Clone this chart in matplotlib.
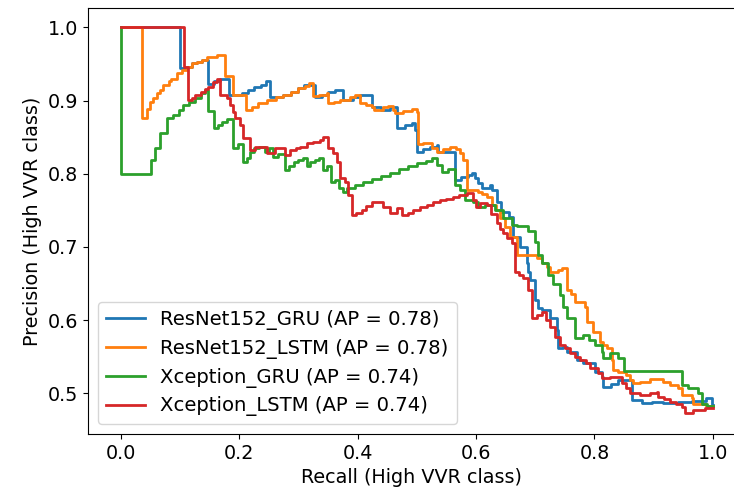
import matplotlib
matplotlib.use("Agg")
import matplotlib.pyplot as plt

# precision-recall curves, recall increasing
# each (r, p) pair: precision becomes p at recall r (steps-post)
resnet_gru_r = [0.000, 0.100, 0.112, 0.120, 0.129, 0.137, 0.148, 0.158, 0.168, 0.183,
                0.205, 0.215, 0.225, 0.237, 0.245, 0.252, 0.275, 0.288, 0.300, 0.310,
                0.328, 0.340, 0.350, 0.362, 0.376, 0.392, 0.405, 0.424, 0.440, 0.455,
                0.466, 0.480, 0.4915, 0.497, 0.500, 0.510, 0.522, 0.534, 0.536, 0.5646,
                0.575, 0.587, 0.593, 0.598, 0.604, 0.610, 0.624, 0.6265, 0.635, 0.643,
                0.655, 0.663, 0.674, 0.686, 0.688, 0.691, 0.700, 0.705, 0.711, 0.725,
                0.736, 0.739, 0.747, 0.753, 0.770, 0.781, 0.801, 0.812, 0.815, 0.828,
                0.840, 0.863, 0.880, 0.8965, 0.916, 0.9415, 0.965, 0.989, 0.998, 1.000]
resnet_gru_p = [1.000, 0.944, 0.946, 0.951, 0.953, 0.956, 0.923, 0.926, 0.929, 0.9075,
                0.910, 0.914, 0.918, 0.921, 0.926, 0.905, 0.9075, 0.912, 0.917, 0.921,
                0.905, 0.908, 0.912, 0.914, 0.901, 0.905, 0.9075, 0.8915, 0.887, 0.8915,
                0.862, 0.866, 0.869, 0.860, 0.830, 0.834, 0.837, 0.839, 0.830, 0.791,
                0.795, 0.798, 0.8005, 0.794, 0.787, 0.780, 0.785, 0.778, 0.762, 0.748,
                0.741, 0.714, 0.700, 0.678, 0.666, 0.655, 0.6275, 0.616, 0.614, 0.6025,
                0.5865, 0.5615, 0.5637, 0.557, 0.5455, 0.541, 0.5295, 0.5227, 0.509, 0.513,
                0.518, 0.491, 0.4863, 0.4885, 0.4863, 0.4885, 0.490, 0.493, 0.484, 0.484]

resnet_lstm_r = [0.000, 0.037, 0.044, 0.049, 0.055, 0.061, 0.067, 0.072, 0.081, 0.086,
                 0.095, 0.103, 0.112, 0.120, 0.129, 0.137, 0.146, 0.162, 0.176, 0.189,
                 0.212, 0.222, 0.232, 0.247, 0.262, 0.275, 0.288, 0.300, 0.312, 0.318,
                 0.325, 0.335, 0.348, 0.351, 0.360, 0.370, 0.387, 0.396, 0.404, 0.415,
                 0.424, 0.427, 0.4435, 0.452, 0.460, 0.463, 0.476, 0.4915, 0.500, 0.5026,
                 0.511, 0.525, 0.534, 0.545, 0.556, 0.566, 0.573, 0.5786, 0.5843, 0.604,
                 0.610, 0.618, 0.6265, 0.633, 0.6405, 0.649, 0.6574, 0.6687, 0.6856, 0.7024,
                 0.712, 0.719, 0.725, 0.739, 0.745, 0.753, 0.760, 0.767, 0.784, 0.787,
                 0.798, 0.809, 0.815, 0.821, 0.829, 0.832, 0.840, 0.854, 0.860, 0.8655,
                 0.877, 0.894, 0.916, 0.927, 0.941, 0.947, 0.964, 0.967, 0.989, 1.000]
resnet_lstm_p = [1.000, 0.876, 0.889, 0.898, 0.903, 0.910, 0.914, 0.921, 0.926, 0.930,
                 0.937, 0.942, 0.946, 0.951, 0.953, 0.956, 0.959, 0.962, 0.933, 0.9075,
                 0.887, 0.891, 0.896, 0.901, 0.905, 0.9075, 0.912, 0.917, 0.920, 0.9235,
                 0.906, 0.908, 0.910, 0.896, 0.898, 0.901, 0.905, 0.9075, 0.896, 0.894,
                 0.8915, 0.887, 0.8915, 0.893, 0.887, 0.8825, 0.886, 0.889, 0.8847, 0.840,
                 0.8415, 0.835, 0.830, 0.834, 0.837, 0.834, 0.828, 0.8187, 0.7777, 0.7754,
                 0.772, 0.7686, 0.757, 0.750, 0.739, 0.7276, 0.714, 0.689, 0.689, 0.6844,
                 0.678, 0.673, 0.666, 0.668, 0.671, 0.641, 0.636, 0.625, 0.618, 0.598,
                 0.584, 0.5705, 0.566, 0.5615, 0.5455, 0.532, 0.5295, 0.525, 0.518, 0.5137,
                 0.516, 0.520, 0.516, 0.511, 0.507, 0.498, 0.493, 0.486, 0.482, 0.482]

xception_gru_r = [0.000, 0.000, 0.051, 0.058, 0.066, 0.078, 0.089, 0.098, 0.106, 0.115,
                  0.125, 0.136, 0.142, 0.148, 0.157, 0.165, 0.172, 0.180, 0.190, 0.198,
                  0.207, 0.213, 0.219, 0.226, 0.234, 0.244, 0.250, 0.258, 0.266, 0.278,
                  0.285, 0.293, 0.300, 0.308, 0.314, 0.320, 0.328, 0.335, 0.342, 0.348,
                  0.356, 0.362, 0.368, 0.376, 0.382, 0.395, 0.410, 0.425, 0.440, 0.455,
                  0.470, 0.485, 0.500, 0.515, 0.525, 0.535, 0.542, 0.552, 0.565, 0.573,
                  0.581, 0.595, 0.604, 0.615, 0.632, 0.645, 0.660, 0.669, 0.688, 0.700,
                  0.705, 0.712, 0.722, 0.730, 0.742, 0.747, 0.753, 0.767, 0.780, 0.790,
                  0.801, 0.812, 0.815, 0.826, 0.840, 0.849, 0.947, 0.958, 0.975, 0.981,
                  0.990, 1.000]
xception_gru_p = [1.000, 0.800, 0.819, 0.835, 0.855, 0.876, 0.880, 0.887, 0.894, 0.898,
                  0.904, 0.910, 0.914, 0.885, 0.862, 0.866, 0.871, 0.875, 0.835, 0.840,
                  0.816, 0.822, 0.830, 0.835, 0.837, 0.830, 0.835, 0.823, 0.827, 0.805,
                  0.810, 0.816, 0.819, 0.821, 0.810, 0.816, 0.819, 0.821, 0.805, 0.810,
                  0.789, 0.792, 0.780, 0.775, 0.780, 0.784, 0.789, 0.793, 0.797, 0.801,
                  0.806, 0.810, 0.814, 0.818, 0.821, 0.812, 0.803, 0.806, 0.785, 0.778,
                  0.764, 0.762, 0.755, 0.757, 0.750, 0.740, 0.730, 0.728, 0.722, 0.707,
                  0.689, 0.678, 0.662, 0.650, 0.634, 0.618, 0.603, 0.575, 0.579, 0.573,
                  0.566, 0.557, 0.548, 0.555, 0.548, 0.530, 0.511, 0.507, 0.500, 0.486,
                  0.483, 0.483]

xception_lstm_r = [0.000, 0.107, 0.1145, 0.120, 0.1257, 0.135, 0.142, 0.148, 0.1567, 0.162,
                   0.168, 0.179, 0.1848, 0.190, 0.193, 0.2017, 0.2073, 0.2186, 0.227, 0.2467,
                   0.2608, 0.2776, 0.286, 0.296, 0.303, 0.314, 0.325, 0.3367, 0.342, 0.3507,
                   0.359, 0.365, 0.3705, 0.3789, 0.3845, 0.390, 0.398, 0.407, 0.415, 0.424,
                   0.4435, 0.4549, 0.466, 0.4746, 0.485, 0.494, 0.505, 0.5168, 0.528, 0.539,
                   0.550, 0.5617, 0.572, 0.5843, 0.5955, 0.600, 0.6068, 0.618, 0.625, 0.635,
                   0.640, 0.646, 0.652, 0.660, 0.6658, 0.673, 0.680, 0.688, 0.694, 0.703,
                   0.711, 0.718, 0.725, 0.7333, 0.742, 0.750, 0.7586, 0.767, 0.7755, 0.785,
                   0.7924, 0.8065, 0.812, 0.826, 0.846, 0.853, 0.860, 0.877, 0.8937, 0.905,
                   0.9077, 0.918, 0.9274, 0.937, 0.947, 0.953, 0.967, 0.9865, 1.000]
xception_lstm_p = [1.000, 0.946, 0.9007, 0.904, 0.9075, 0.912, 0.916, 0.919, 0.9257, 0.929,
                   0.9075, 0.903, 0.894, 0.8847, 0.8757, 0.8665, 0.8484, 0.8324, 0.837, 0.828,
                   0.8347, 0.8255, 0.8324, 0.835, 0.837, 0.8415, 0.844, 0.846, 0.8506, 0.8347,
                   0.828, 0.8164, 0.7937, 0.789, 0.771, 0.7436, 0.747, 0.7504, 0.756, 0.7617,
                   0.755, 0.746, 0.7527, 0.7436, 0.747, 0.7504, 0.754, 0.7572, 0.761, 0.764,
                   0.766, 0.7686, 0.771, 0.773, 0.764, 0.755, 0.7596, 0.7572, 0.745, 0.732,
                   0.725, 0.7186, 0.712, 0.705, 0.666, 0.661, 0.657, 0.641, 0.6025, 0.607,
                   0.6115, 0.600, 0.591, 0.577, 0.566, 0.562, 0.5546, 0.549, 0.5455, 0.541,
                   0.534, 0.5273, 0.5205, 0.5227, 0.5137, 0.507, 0.500, 0.4977, 0.500, 0.502,
                   0.4954, 0.492, 0.4885, 0.485, 0.4817, 0.4727, 0.4772, 0.4795, 0.4795]

labels = ["ResNet152_GRU (AP = 0.78)", "ResNet152_LSTM (AP = 0.78)",
          "Xception_GRU (AP = 0.74)", "Xception_LSTM (AP = 0.74)"]
curves = [(resnet_gru_r, resnet_gru_p), (resnet_lstm_r, resnet_lstm_p),
          (xception_gru_r, xception_gru_p), (xception_lstm_r, xception_lstm_p)]

plt.rcParams["font.size"] = 13.8

fig = plt.figure(figsize=(7.34, 4.95), dpi=100)
ax = fig.add_axes([88 / 734, 61 / 495, 647.5 / 734, 426 / 495])

for (rec, prec), lab in zip(curves, labels):
    ax.plot(rec, prec, drawstyle="steps-post", lw=2.0, label=lab)

ax.set_xlim(-0.0549, 1.038)
ax.set_ylim(0.4444, 1.0264)
ax.set_xticks([0.0, 0.2, 0.4, 0.6, 0.8, 1.0])
ax.set_yticks([0.5, 0.6, 0.7, 0.8, 0.9, 1.0])
ax.set_xlabel("Recall (High VVR class)")
ax.set_ylabel("Precision (High VVR class)")
ax.legend(loc="lower left", fontsize=14.1, labelspacing=0.45)

fig.savefig("out.png", dpi=100)
